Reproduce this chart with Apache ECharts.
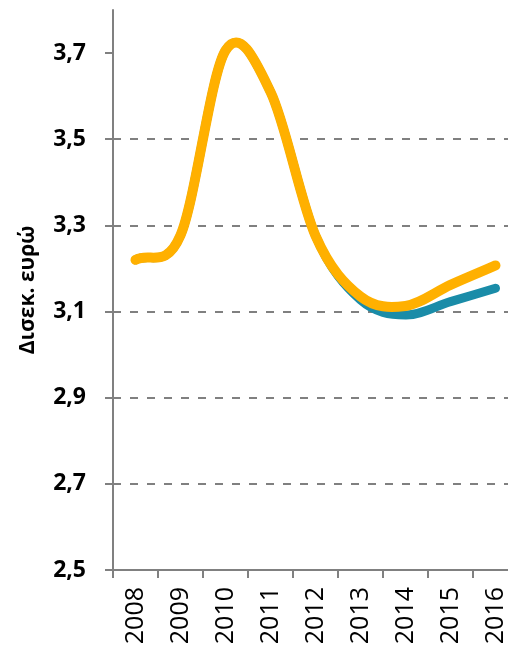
<!DOCTYPE html>
<html>
<head>
<meta charset="utf-8">
<script src="https://cdn.jsdelivr.net/npm/echarts@6/dist/echarts.min.js"></script>
<style>
html,body{margin:0;padding:0;background:#fff;}
#chart{width:508px;height:646px;}
</style>
</head>
<body>
<div id="chart"></div>
<script>
// Data
var years = ['2008','2009','2010','2011','2012','2013','2014','2015','2016'];
var seriesOrange = [3.22, 3.277, 3.706, 3.61, 3.276, 3.135, 3.113, 3.162, 3.207];
var seriesBlue   = [3.22, 3.277, 3.706, 3.61, 3.276, 3.127, 3.092, 3.123, 3.154];
var yTicks = [2.5, 2.7, 2.9, 3.1, 3.3, 3.5, 3.7];
var yAxisTitle = 'Δισεκ. ευρώ';

var axisGray = '#808080';

// Smoothed line (Catmull-Rom Bezier, like Excel's smoothed line) drawn from the data
// through the chart's own coordinate system (api.coord)
function smoothSeries(values, color, width, z) {
  return {
    type: 'custom',
    coordinateSystem: 'cartesian2d',
    data: values.map(function (v, i) { return [i, v]; }),
    encode: {x: 0, y: 1},
    z: z,
    silent: true,
    clip: false,
    renderItem: function (params, api) {
      if (params.dataIndex !== 0) return null;
      var p = values.map(function (v, k) { return api.coord([k, v]); });
      var n = p.length;
      var before = [], after = [];
      for (var i = 0; i < n; i++) {
        if (i === 0) {
          after[i] = [p[0][0] + (p[1][0]-p[0][0]) / 3, p[0][1] + (p[1][1]-p[0][1]) / 3];
          before[i] = p[0];
        } else if (i === n - 1) {
          before[i] = [p[i][0] - (p[i][0]-p[i-1][0]) / 3, p[i][1] - (p[i][1]-p[i-1][1]) / 3];
          after[i] = p[i];
        } else {
          var vx = (p[i+1][0] - p[i-1][0]) / 6, vy = (p[i+1][1] - p[i-1][1]) / 6;
          before[i] = [p[i][0] - vx, p[i][1] - vy];
          after[i] = [p[i][0] + vx, p[i][1] + vy];
        }
      }
      var d = 'M' + p[0][0] + ' ' + p[0][1];
      for (var j = 0; j < n - 1; j++) {
        d += ' C' + after[j][0] + ' ' + after[j][1] + ' ' + before[j+1][0] + ' ' + before[j+1][1] + ' ' + p[j+1][0] + ' ' + p[j+1][1];
      }
      return {
        type: 'path',
        shape: {pathData: d},
        style: {fill: 'none', stroke: color, lineWidth: width, lineCap: 'round', lineJoin: 'round'}
      };
    }
  };
}

var chart = echarts.init(document.getElementById('chart'), null, {renderer: 'canvas'});
chart.setOption({
  animation: false,
  backgroundColor: '#ffffff',
  grid: {left: 113, top: 10, width: 405, bottom: 76, containLabel: false, outerBoundsMode: 'none'},
  xAxis: {
    type: 'category',
    data: years,
    boundaryGap: true,
    axisLine: {show: true, lineStyle: {color: axisGray, width: 2}},
    axisTick: {show: true, alignWithLabel: false, length: 8, lineStyle: {color: axisGray, width: 2}},
    axisLabel: {rotate: 90, margin: 17, color: '#000', fontFamily: 'Open Sans', fontSize: 25, interval: 0},
    splitLine: {show: false}
  },
  yAxis: {
    type: 'value',
    min: 2.5,
    max: 3.8,
    interval: 0.2,
    name: yAxisTitle,
    nameLocation: 'middle',
    nameGap: 74,
    nameRotate: 90,
    nameTextStyle: {color: '#000', fontFamily: 'Open Sans', fontWeight: 'bold', fontSize: 21},
    axisLine: {show: true, lineStyle: {color: axisGray, width: 2}},
    axisTick: {show: true, length: 8, customValues: yTicks, lineStyle: {color: axisGray, width: 2}},
    axisLabel: {
      customValues: yTicks,
      margin: 27,
      color: '#000', fontFamily: 'Open Sans', fontWeight: 'bold', fontSize: 23,
      formatter: function (v) { return v.toFixed(1).replace('.', ','); }
    },
    splitLine: {show: true, showMinLine: false, showMaxLine: false,
      lineStyle: {color: axisGray, width: 2, type: [8, 9]}}
  },
  series: [
    smoothSeries(seriesBlue, '#1A8CA8', 9, 3),
    smoothSeries(seriesOrange, '#FFB000', 10, 4)
  ]
});
</script>
</body>
</html>
